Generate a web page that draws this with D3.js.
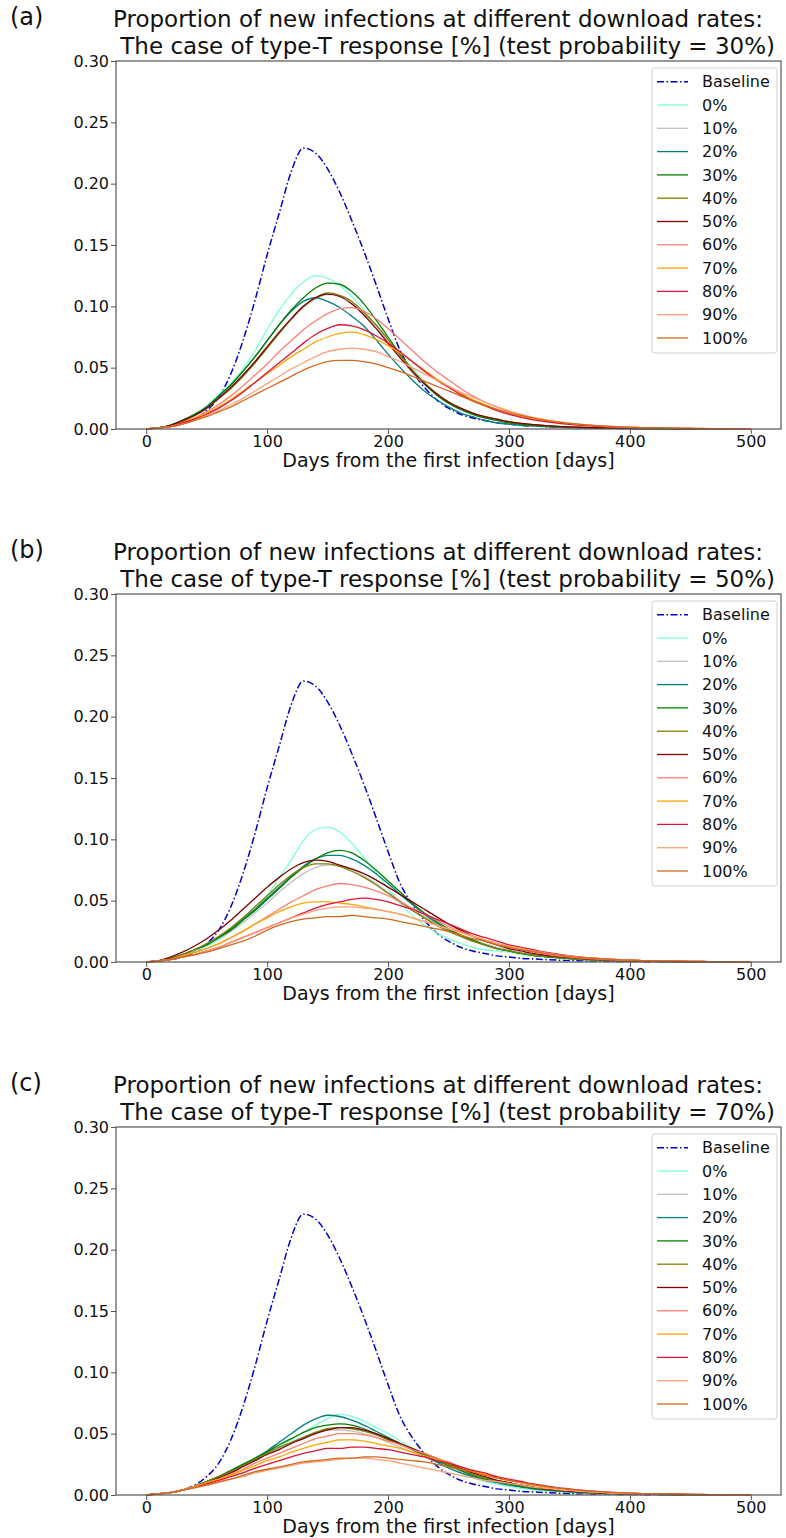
<!DOCTYPE html>
<meta charset="utf-8">

<style>

body {
  margin: 0;
  background: #fff;
}

text {
  font-family: "DejaVu Sans", sans-serif;
  fill: #111;
}

.tick text {
  font-size: 16px;
}

.tick line {
  stroke: #555;
}

</style>
<svg width="786" height="1538"></svg>
<script src="https://d3js.org/d3.v7.min.js"></script>
<script>

// x grid of the readings, every 10 days
var days = [0,10,20,30,40,50,60,70,80,90,100,110,120,130,140,150,160,170,180,190,
  200,210,220,230,240,250,260,270,280,290,300,310,320,330,340,350,360,370,380,390,
  400,410,420,430,440,450,460,470,480,490,500];

var rateLabels = ["0%", "10%", "20%", "30%", "40%", "50%", "60%", "70%", "80%", "90%", "100%"];
var rateColors = ["aquamarine", "silver", "teal", "green", "olive", "maroon",
  "salmon", "orange", "crimson", "lightsalmon", "chocolate"];

var panelLabels = ["(a)", "(b)", "(c)"];
var testProbs = ["30%", "50%", "70%"];

var xTicks = [0, 100, 200, 300, 400, 500];
var yTicks = [0, 0.05, 0.10, 0.15, 0.20, 0.25, 0.30];

// same baseline in every panel
var baseline = [0,.001,.002,.004,.008,.015,.026,.045,.072,.105,
  .142,.176,.21,.229,.225,.212,.193,.17,.145,.118,
  .09,.064,.047,.034,.024,.017,.012,.009,.007,.005,
  .004,.003,.0025,.002,.0015,.0012,.001,.0008,.0006,.0005,
  .0004,.0003,.0003,.0002,.0002,.0001,.0001,.0001,0,0,
  0];

// test probability = 30%, one row per download rate
var testA = [
  [0,.001,.003,.007,.012,.019,.028,.037,.049,.064, .081,.097,.11,.12,.125,.123,.117,.108,.097,.084,
   .071,.06,.05,.038,.028,.021,.016,.012,.009,.007, .005,.004,.003,.0025,.002,.0015,.0012,.001,.0008,.0006,
   .0005,.0004,.0003,.0002,.0002,.0001,.0001,.0001,0,0, 0],
  [0,.001,.003,.007,.011,.017,.025,.033,.043,.054, .066,.078,.089,.099,.106,.11,.109,.104,.095,.084,
   .071,.058,.046,.036,.028,.021,.016,.012,.009,.007, .005,.004,.003,.0025,.002,.0016,.0013,.001,.0008,.0006,
   .0005,.0004,.0003,.0003,.0002,.0002,.0001,.0001,.0001,0, 0],
  [0,.001,.003,.007,.012,.018,.027,.036,.047,.059, .072,.085,.096,.104,.107,.104,.099,.092,.084,.073,
   .061,.05,.04,.031,.024,.018,.013,.01,.007,.005, .004,.003,.0025,.002,.0015,.0012,.001,.0008,.0006,.0005,
   .0004,.0003,.0003,.0002,.0002,.0001,.0001,.0001,0,0, 0],
  [0,.001,.003,.007,.012,.018,.027,.036,.047,.059, .072,.085,.097,.107,.115,.119,.118,.112,.102,.089,
   .075,.061,.048,.037,.028,.021,.016,.012,.009,.007, .005,.004,.003,.0025,.002,.0016,.0013,.001,.0008,.0006,
   .0005,.0004,.0003,.0003,.0002,.0002,.0001,.0001,.0001,0, 0],
  [0,.001,.003,.006,.011,.017,.025,.033,.043,.054, .066,.078,.09,.1,.107,.111,.109,.104,.095,.085,
   .073,.06,.048,.038,.029,.022,.017,.013,.01,.008, .006,.0045,.0035,.0028,.0022,.0017,.0013,.001,.0008,.0006,
   .0005,.0004,.0003,.0003,.0002,.0002,.0001,.0001,.0001,0, 0],
  [0,.001,.003,.007,.011,.017,.025,.034,.044,.055, .067,.079,.09,.1,.107,.11,.108,.102,.093,.082,
   .07,.058,.047,.037,.029,.022,.017,.013,.01,.008, .006,.0045,.0035,.0028,.0022,.0017,.0013,.001,.0008,.0006,
   .0005,.0004,.0003,.0003,.0002,.0002,.0001,.0001,.0001,0, 0],
  [0,.001,.002,.005,.009,.014,.02,.027,.035,.044, .053,.063,.072,.081,.088,.094,.098,.099,.096,.09,
   .082,.073,.064,.055,.047,.04,.033,.027,.022,.018, .014,.011,.009,.007,.0055,.0045,.0035,.0028,.0022,.0018,
   .0014,.0011,.0009,.0007,.0005,.0004,.0003,.0002,.0001,.0001, 0],
  [0,.001,.002,.005,.009,.013,.018,.024,.031,.038, .045,.052,.059,.065,.071,.075,.078,.079,.077,.073,
   .068,.062,.055,.048,.041,.035,.029,.024,.02,.016, .013,.01,.008,.0065,.005,.004,.0032,.0025,.002,.0016,
   .0012,.001,.0008,.0006,.0005,.0004,.0003,.0002,.0001,.0001, 0],
  [0,.001,.002,.005,.008,.012,.017,.023,.03,.038, .046,.054,.062,.07,.077,.082,.085,.084,.081,.076,
   .07,.063,.055,.047,.04,.034,.028,.023,.019,.015, .012,.0095,.0075,.006,.0048,.0038,.003,.0024,.0019,.0015,
   .0012,.001,.0008,.0006,.0005,.0004,.0003,.0002,.0001,.0001, 0],
  [0,.001,.002,.004,.007,.011,.015,.02,.025,.031, .037,.043,.049,.054,.059,.063,.065,.066,.065,.063,
   .059,.055,.05,.045,.04,.035,.03,.026,.022,.018, .015,.012,.0095,.0075,.006,.0048,.0038,.003,.0024,.0019,
   .0015,.0012,.001,.0008,.0006,.0005,.0004,.0003,.0002,.0001, 0],
  [0,.001,.002,.004,.007,.01,.014,.018,.023,.028, .033,.038,.043,.048,.052,.055,.056,.056,.055,.053,
   .05,.047,.043,.039,.035,.031,.027,.023,.019,.016, .013,.011,.009,.0072,.0058,.0046,.0037,.003,.0024,.0019,
   .0015,.0012,.001,.0008,.0006,.0005,.0004,.0003,.0002,.0001, 0]
];

// test probability = 50%
var testB = [
  [0,.001,.003,.005,.009,.013,.018,.025,.034,.043, .054,.069,.083,.099,.108,.11,.106,.097,.085,.073,
   .06,.048,.038,.03,.024,.019,.015,.012,.01,.009, .008,.006,.005,.004,.003,.0025,.002,.0015,.0012,.001,
   .0008,.0006,.0005,.0004,.0003,.0002,.0002,.0001,.0001,0, 0],
  [0,.001,.003,.006,.01,.014,.019,.025,.032,.04, .048,.057,.065,.072,.077,.079,.078,.075,.07,.064,
   .057,.05,.043,.037,.031,.026,.022,.018,.015,.012, .01,.008,.0065,.005,.004,.0032,.0025,.002,.0016,.0012,
   .001,.0008,.0006,.0005,.0004,.0003,.0002,.0002,.0001,.0001, 0],
  [0,.001,.003,.006,.01,.014,.02,.027,.035,.043, .052,.061,.07,.078,.084,.087,.087,.084,.079,.072,
   .064,.055,.047,.039,.032,.026,.021,.017,.014,.011, .009,.007,.0055,.0045,.0035,.0028,.0022,.0017,.0013,.001,
   .0008,.0006,.0005,.0004,.0003,.0002,.0002,.0001,.0001,0, 0],
  [0,.001,.003,.006,.01,.014,.02,.026,.034,.042, .051,.06,.069,.077,.084,.089,.091,.089,.083,.075,
   .066,.057,.048,.04,.033,.027,.022,.018,.014,.011, .009,.007,.0055,.0045,.0035,.0028,.0022,.0017,.0013,.001,
   .0008,.0006,.0005,.0004,.0003,.0002,.0002,.0001,.0001,0, 0],
  [0,.001,.003,.006,.01,.015,.021,.028,.036,.045, .054,.063,.071,.077,.08,.08,.078,.074,.069,.063,
   .056,.049,.042,.036,.03,.025,.021,.017,.014,.011, .009,.007,.0055,.0045,.0035,.0028,.0022,.0017,.0013,.001,
   .0008,.0006,.0005,.0004,.0003,.0002,.0002,.0001,.0001,0, 0],
  [0,.001,.004,.008,.013,.019,.026,.034,.043,.052, .061,.069,.076,.081,.083,.082,.079,.076,.072,.067,
   .061,.055,.049,.043,.037,.031,.026,.021,.017,.014, .011,.009,.007,.0055,.0045,.0035,.0028,.0022,.0017,.0013,
   .001,.0008,.0006,.0005,.0004,.0003,.0002,.0002,.0001,.0001, 0],
  [0,.001,.002,.005,.008,.011,.015,.02,.025,.031, .037,.043,.049,.054,.059,.062,.064,.063,.061,.058,
   .054,.049,.044,.039,.034,.029,.025,.021,.018,.015, .012,.01,.008,.0065,.005,.004,.0032,.0025,.002,.0016,
   .0012,.001,.0008,.0006,.0005,.0004,.0003,.0002,.0001,.0001, 0],
  [0,.001,.002,.005,.008,.011,.015,.02,.025,.031, .036,.041,.045,.048,.049,.049,.048,.047,.045,.043,
   .041,.039,.036,.033,.03,.027,.024,.021,.018,.015, .013,.011,.009,.0075,.006,.005,.004,.0032,.0025,.002,
   .0016,.0012,.001,.0008,.0006,.0005,.0004,.0003,.0002,.0001, 0],
  [0,.001,.002,.004,.006,.009,.012,.016,.02,.024, .028,.032,.036,.04,.044,.047,.049,.051,.052,.051,
   .049,.046,.043,.039,.035,.031,.027,.023,.02,.017, .014,.012,.01,.008,.0065,.005,.004,.0032,.0025,.002,
   .0016,.0012,.001,.0008,.0006,.0005,.0004,.0003,.0002,.0001, 0],
  [0,.001,.002,.004,.006,.009,.012,.016,.02,.024, .028,.032,.036,.039,.042,.044,.045,.045,.044,.043,
   .041,.039,.036,.033,.03,.027,.024,.021,.018,.015, .013,.011,.009,.0075,.006,.005,.004,.0032,.0025,.002,
   .0016,.0012,.001,.0008,.0006,.0005,.0004,.0003,.0002,.0001, 0],
  [0,.001,.002,.004,.006,.008,.011,.014,.017,.021, .026,.03,.033,.035,.036,.037,.037,.038,.037,.036,
   .035,.033,.031,.029,.027,.025,.022,.019,.017,.014, .012,.01,.0085,.007,.0058,.0046,.0037,.003,.0024,.0019,
   .0015,.0012,.001,.0008,.0006,.0005,.0004,.0003,.0002,.0001, 0]
];

// test probability = 70%
var testC = [
  [0,.001,.002,.004,.007,.011,.015,.02,.025,.03, .035,.04,.045,.051,.057,.062,.066,.064,.06,.055,
   .05,.044,.038,.032,.027,.022,.018,.014,.011,.009, .007,.0055,.0045,.0035,.0028,.0022,.0017,.0013,.001,.0008,
   .0006,.0005,.0004,.0003,.0002,.0002,.0001,.0001,.0001,0, 0],
  [0,.001,.002,.004,.007,.011,.015,.019,.024,.029, .034,.038,.043,.047,.051,.053,.053,.052,.05,.047,
   .043,.039,.035,.031,.027,.023,.019,.016,.013,.011, .009,.007,.0055,.0045,.0035,.0028,.0022,.0017,.0013,.001,
   .0008,.0006,.0005,.0004,.0003,.0002,.0002,.0001,.0001,0, 0],
  [0,.001,.002,.004,.007,.011,.015,.02,.025,.03, .036,.043,.05,.057,.062,.065,.064,.061,.057,.052,
   .047,.042,.037,.032,.027,.022,.018,.015,.012,.01, .008,.0065,.005,.004,.0032,.0025,.002,.0016,.0012,.001,
   .0008,.0006,.0005,.0004,.0003,.0002,.0002,.0001,.0001,0, 0],
  [0,.001,.002,.004,.007,.011,.015,.02,.025,.03, .035,.041,.046,.051,.055,.057,.058,.057,.054,.05,
   .046,.042,.037,.033,.028,.024,.02,.016,.013,.011, .009,.007,.0055,.0045,.0035,.0028,.0022,.0017,.0013,.001,
   .0008,.0006,.0005,.0004,.0003,.0002,.0002,.0001,.0001,0, 0],
  [0,.001,.002,.004,.007,.011,.015,.019,.024,.029, .034,.039,.043,.047,.051,.054,.055,.054,.052,.049,
   .045,.041,.037,.033,.029,.025,.021,.017,.014,.012, .01,.008,.0065,.005,.004,.0032,.0025,.002,.0016,.0012,
   .001,.0008,.0006,.0005,.0004,.0003,.0002,.0002,.0001,0, 0],
  [0,.001,.002,.004,.007,.01,.014,.018,.023,.028, .033,.037,.042,.046,.05,.053,.055,.055,.053,.05,
   .046,.042,.038,.034,.03,.026,.022,.018,.015,.012, .01,.008,.0065,.005,.004,.0032,.0025,.002,.0016,.0012,
   .001,.0008,.0006,.0005,.0004,.0003,.0002,.0002,.0001,0, 0],
  [0,.001,.002,.004,.007,.01,.013,.017,.021,.026, .03,.034,.038,.042,.046,.048,.05,.05,.049,.047,
   .044,.041,.037,.034,.03,.027,.023,.02,.017,.014, .012,.01,.008,.0065,.005,.004,.0032,.0025,.002,.0016,
   .0012,.001,.0008,.0006,.0005,.0004,.0003,.0002,.0001,.0001, 0],
  [0,.001,.002,.004,.007,.01,.013,.016,.02,.024, .028,.031,.035,.038,.041,.043,.045,.045,.044,.042,
   .04,.038,.035,.032,.029,.026,.023,.02,.017,.014, .012,.01,.008,.0065,.005,.004,.0032,.0025,.002,.0016,
   .0012,.001,.0008,.0006,.0005,.0004,.0003,.0002,.0001,.0001, 0],
  [0,.001,.002,.004,.006,.009,.012,.015,.018,.022, .025,.028,.031,.034,.036,.038,.038,.039,.039,.038,
   .037,.035,.033,.031,.028,.026,.023,.02,.018,.015, .013,.011,.009,.0075,.006,.005,.004,.0032,.0025,.002,
   .0016,.0012,.001,.0008,.0006,.0005,.0004,.0003,.0002,.0001, 0],
  [0,.001,.002,.004,.006,.008,.01,.013,.015,.018, .02,.022,.024,.026,.027,.028,.029,.03,.03,.029,
   .028,.026,.024,.022,.02,.018,.016,.014,.012,.011, .0095,.008,.0065,.0055,.0045,.0037,.003,.0024,.0019,.0015,
   .0012,.001,.0008,.0006,.0005,.0004,.0003,.0002,.0001,.0001, 0],
  [0,.001,.002,.004,.006,.008,.011,.013,.016,.019, .021,.023,.025,.027,.028,.029,.03,.03,.031,.031,
   .03,.029,.028,.027,.025,.023,.021,.019,.016,.014, .012,.01,.0085,.007,.0058,.0046,.0037,.003,.0024,.0019,
   .0015,.0012,.001,.0008,.0006,.0005,.0004,.0003,.0002,.0001, 0]
];

var panels = [testA, testB, testC];

var svg = d3.select("svg"),
    left = 116,
    right = 781,
    plotH = 368,
    tops = [61, 594, 1127];

var x = d3.scaleLinear().domain([-25, 525]).range([left, right]);

function drawPanel(k) {
  var top = tops[k],
      series = panels[k];

  var y = d3.scaleLinear().domain([0, 0.3]).range([top + plotH, top]);

  var line = d3.line()
      .x(function(d) { return x(d[0]); })
      .y(function(d) { return y(d[1]); })
      .curve(d3.curveMonotoneX);

  function pts(vals) {
    if (vals.length !== days.length) throw new Error("bad length " + vals.length);
    return days.map(function(d, i) { return [d, vals[i]]; });
  }

  var g = svg.append("g");

  // panel label and two-line title
  g.append("text")
      .attr("x", 10)
      .attr("y", top - 36)
      .style("font-size", "24px")
      .text(panelLabels[k]);

  var title = g.append("text")
      .attr("x", 113)
      .attr("y", top - 34)
      .style("font-size", "23px")
      .attr("xml:space", "preserve");
  title.append("tspan")
      .attr("x", 113)
      .text("Proportion of new infections at different download rates:");
  title.append("tspan")
      .attr("x", 113)
      .attr("y", top - 7)
      .text(" The case of type-T response [%] (test probability = " + testProbs[k] + ")");

  // curves
  g.append("path")
      .attr("d", line(pts(baseline)))
      .attr("fill", "none")
      .attr("stroke", "mediumblue")
      .attr("stroke-width", 1.5)
      .attr("stroke-dasharray", "7,2.5,1.5,2.5");

  series.forEach(function(vals, i) {
    g.append("path")
        .attr("d", line(pts(vals)))
        .attr("fill", "none")
        .attr("stroke", rateColors[i])
        .attr("stroke-width", 1.3);
  });

  // axes
  g.append("g")
      .attr("transform", "translate(0," + (top + plotH) + ")")
      .call(d3.axisBottom(x).tickValues(xTicks).tickSize(5).tickPadding(2).tickSizeOuter(0))
      .call(function(a) { a.select(".domain").remove(); });

  g.append("g")
      .attr("transform", "translate(" + left + ",0)")
      .call(d3.axisLeft(y).tickValues(yTicks).tickFormat(d3.format(".2f")).tickSize(5).tickPadding(2).tickSizeOuter(0))
      .call(function(a) { a.select(".domain").remove(); });

  g.selectAll(".tick text").attr("fill", "#111");

  g.append("rect")
      .attr("x", left)
      .attr("y", top)
      .attr("width", right - left)
      .attr("height", plotH)
      .attr("fill", "none")
      .attr("stroke", "#555")
      .attr("stroke-width", 1.2);

  g.append("text")
      .attr("x", (left + right) / 2)
      .attr("y", top + plotH + 38)
      .attr("text-anchor", "middle")
      .style("font-size", "19px")
      .text("Days from the first infection [days]");

  // legend
  var lg = g.append("g");
  lg.append("rect")
      .attr("x", 652)
      .attr("y", top + 7)
      .attr("width", 125)
      .attr("height", 285)
      .attr("rx", 3)
      .attr("fill", "#fff")
      .attr("fill-opacity", 0.8)
      .attr("stroke", "#d0d0d0");

  var entries = [{label: "Baseline", color: "mediumblue", dash: "7,2.5,1.5,2.5"}]
    .concat(rateLabels.map(function(r, i) { return {label: r, color: rateColors[i], dash: null}; }));

  entries.forEach(function(e, i) {
    var ey = top + 20.7 + 23.3 * i;
    lg.append("line")
        .attr("x1", 657).attr("x2", 688)
        .attr("y1", ey).attr("y2", ey)
        .attr("stroke", e.color)
        .attr("stroke-width", e.dash ? 1.5 : 1.3)
        .attr("stroke-dasharray", e.dash);
    lg.append("text")
        .attr("x", 702)
        .attr("y", ey)
        .attr("dy", "0.35em")
        .style("font-size", "16px")
        .text(e.label);
  });
}

panels.forEach(function(p, k) { drawPanel(k); });

</script>
